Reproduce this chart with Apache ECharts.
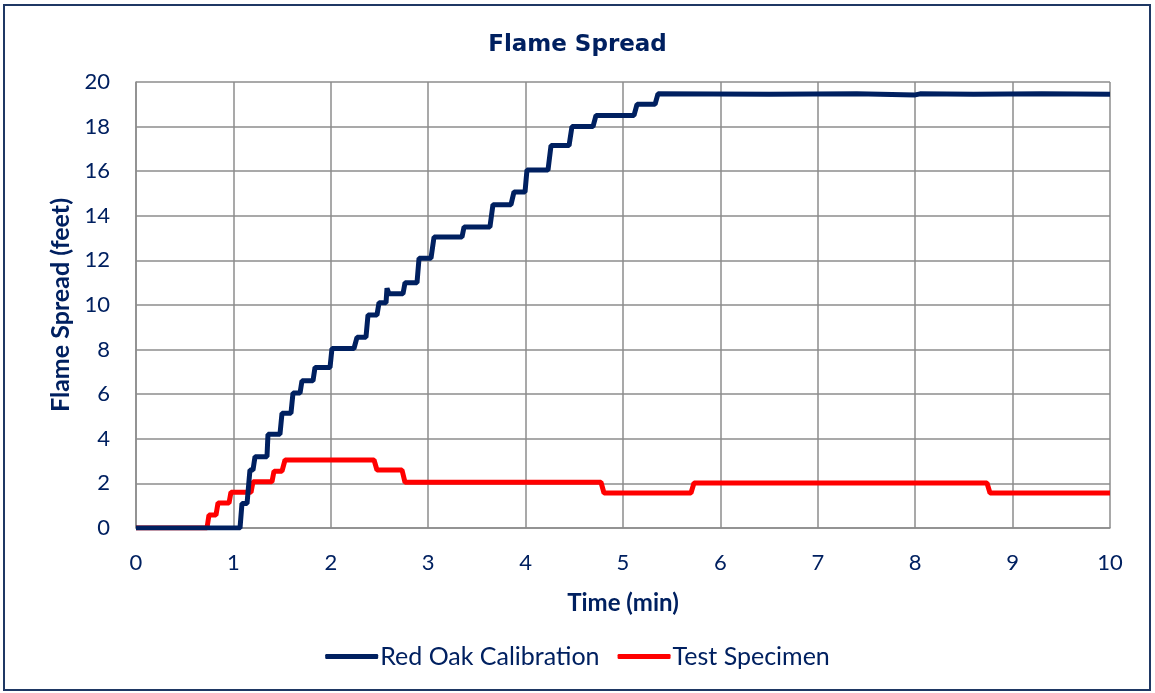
<!DOCTYPE html>
<html>
<head>
<meta charset="utf-8">
<script src="https://cdn.jsdelivr.net/npm/echarts@6/dist/echarts.min.js"></script>
<style>
  html, body { margin: 0; padding: 0; background: #fff; }
  #chart { width: 1155px; height: 693px; }
</style>
</head>
<body>
<div id="chart"></div>
<script>
// 时间 (min) 与火焰传播距离 (feet)，按台阶拐点读取
const oakTime = [0, 1.068, 1.088, 1.099, 1.140, 1.170, 1.201, 1.222, 1.345, 1.355, 1.478, 1.499, 1.591,
  1.612, 1.684, 1.704, 1.817, 1.838, 1.992, 2.012, 2.238, 2.269, 2.361, 2.382, 2.474, 2.495, 2.567,
  2.577, 2.598, 2.741, 2.762, 2.885, 2.906, 3.029, 3.060, 3.347, 3.368, 3.634, 3.665, 3.850, 3.881,
  3.994, 4.014, 4.230, 4.261, 4.446, 4.476, 4.692, 4.723, 5.113, 5.144, 5.329, 5.359, 6.5, 7.4, 8.0,
  8.05, 8.6, 9.3, 10];
const oakFeet = [0, 0, 1.1, 1.1, 1.1, 2.6, 2.6, 3.2, 3.2, 4.2, 4.2, 5.15, 5.15,
  6.05, 6.05, 6.6, 6.6, 7.2, 7.2, 8.05, 8.05, 8.55, 8.55, 9.55, 9.55, 10.1, 10.1,
  10.75, 10.5, 10.5, 11.0, 11.0, 12.1, 12.1, 13.05, 13.05, 13.5, 13.5, 14.5, 14.5, 15.07,
  15.07, 16.05, 16.05, 17.15, 17.15, 18.0, 18.0, 18.5, 18.5, 19.0, 19.0, 19.47, 19.45, 19.47, 19.42,
  19.47, 19.45, 19.47, 19.45];

const specTime = [0, 0.729, 0.749, 0.821, 0.842, 0.955, 0.975, 1.181, 1.201, 1.396, 1.417, 1.499,
  1.530, 2.444, 2.474, 2.731, 2.762, 4.774, 4.805, 5.698, 5.729, 8.737, 8.768, 10];
const specFeet = [0, 0, 0.58, 0.58, 1.12, 1.12, 1.6, 1.6, 2.07, 2.07, 2.55, 2.55,
  3.05, 3.05, 2.6, 2.6, 2.05, 2.05, 1.57, 1.57, 2.02, 2.02, 1.57, 1.57];

const xTicks = [0, 1, 2, 3, 4, 5, 6, 7, 8, 9, 10];
const yTicks = [0, 2, 4, 6, 8, 10, 12, 14, 16, 18, 20];

const navy = '#002060';
const gridGray = '#8c8c8c';
const font = 'Lato, "Open Sans", sans-serif';

const chart = echarts.init(document.getElementById('chart'));
chart.setOption({
  animation: false,
  textStyle: { fontFamily: font },
  graphic: [{
    type: 'rect',
    shape: { x: 4, y: 5, width: 1146, height: 685 },
    style: { fill: 'none', stroke: '#1F3864', lineWidth: 2 }
  }],
  title: {
    text: 'Flame Spread',
    left: 'center',
    top: 29,
    textStyle: { fontFamily: '"DejaVu Sans", sans-serif', fontSize: 23, fontWeight: 'bold', color: navy }
  },
  grid: { left: 136, right: 45, top: 82, bottom: 165 },
  xAxis: {
    type: 'value',
    min: xTicks[0],
    max: xTicks[xTicks.length - 1],
    interval: 1,
    name: 'Time (min)',
    nameLocation: 'middle',
    nameGap: 63,
    nameTextStyle: { fontFamily: font, fontSize: 24, fontWeight: 'bold', color: navy },
    axisLine: { lineStyle: { color: gridGray, width: 1.5 } },
    axisTick: { show: false },
    axisLabel: { fontSize: 22, color: navy, margin: 24 },
    splitLine: { show: true, lineStyle: { color: gridGray, width: 1.5 } }
  },
  yAxis: {
    type: 'value',
    min: yTicks[0],
    max: yTicks[yTicks.length - 1],
    interval: 2,
    name: 'Flame Spread (feet)',
    nameLocation: 'middle',
    nameGap: 63,
    nameTextStyle: { fontFamily: font, fontSize: 25, fontWeight: 'bold', color: navy },
    axisLine: { show: true, lineStyle: { color: gridGray, width: 1.5 } },
    axisTick: { show: false },
    axisLabel: { fontSize: 22, color: navy, margin: 26 },
    splitLine: { show: true, lineStyle: { color: gridGray, width: 1.5 } }
  },
  legend: {
    bottom: 19,
    left: 'center',
    itemWidth: 53,
    itemHeight: 5,
    itemGap: 18,
    icon: 'roundRect',
    textStyle: { fontFamily: font, fontSize: 25, color: navy, padding: [0, 0, 0, -3] },
    data: ['Red Oak Calibration', 'Test Specimen']
  },
  series: [
    {
      name: 'Red Oak Calibration',
      type: 'line',
      showSymbol: false,
      color: navy,
      lineStyle: { width: 5, color: navy },
      data: oakTime.map((t, i) => [t, oakFeet[i]]),
      z: 3
    },
    {
      name: 'Test Specimen',
      type: 'line',
      showSymbol: false,
      color: '#FF0000',
      lineStyle: { width: 5, color: '#FF0000' },
      data: specTime.map((t, i) => [t, specFeet[i]]),
      z: 2
    }
  ]
});
window.addEventListener('resize', () => chart.resize());
</script>
</body>
</html>
